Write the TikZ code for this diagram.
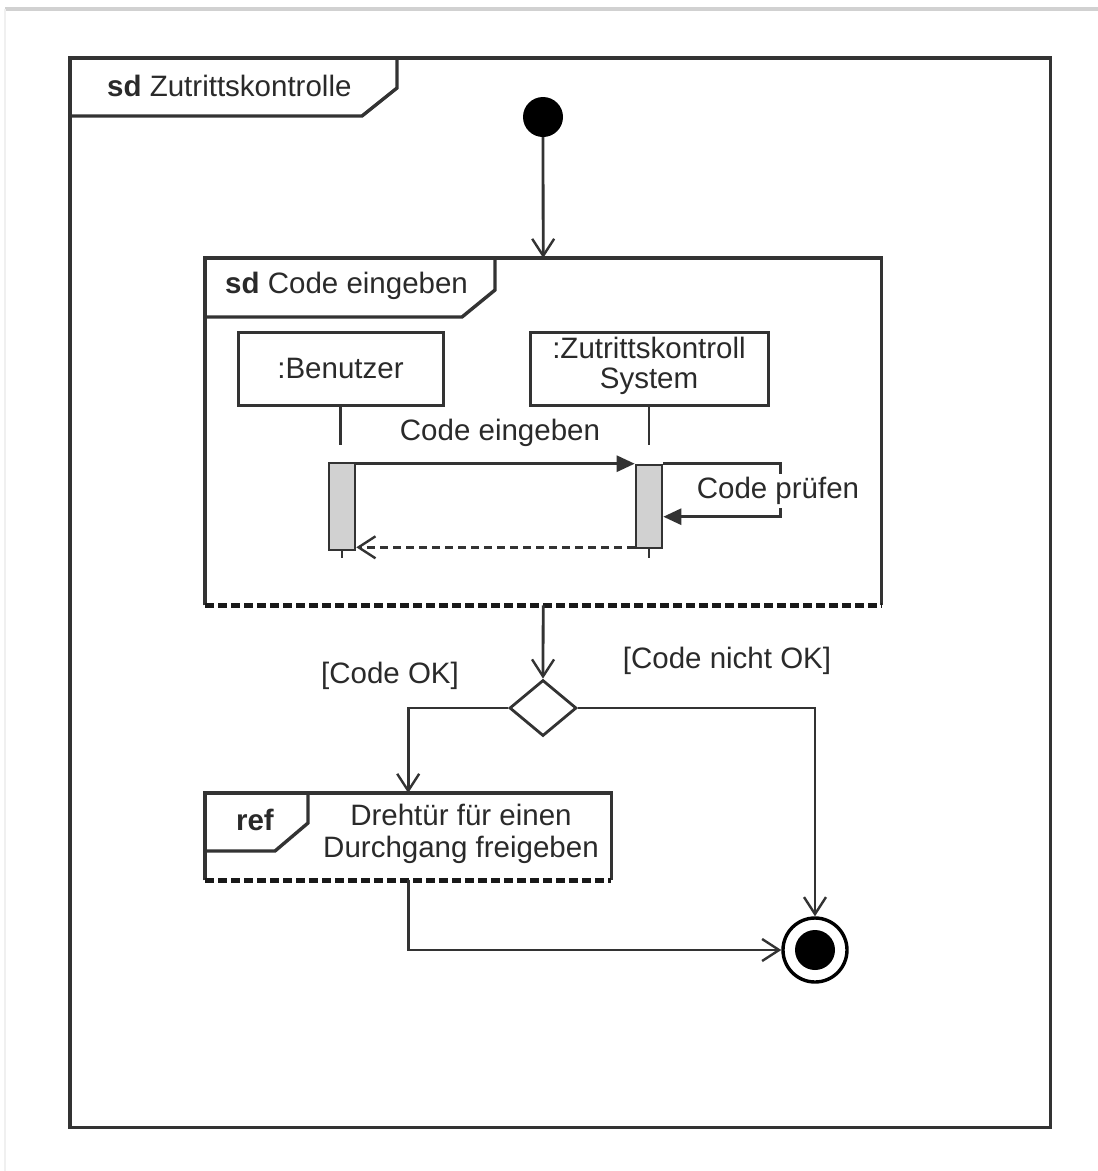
\documentclass[tikz,border=0pt]{standalone}
\usepackage{fontspec}
\setmainfont{Liberation Sans}
\usetikzlibrary{arrows.meta,shapes.geometric,calc}
\definecolor{ink}{HTML}{333333}
\definecolor{txt}{HTML}{2A2A2A}
\tikzset{
  lbl/.style={font=\fontsize{29.5}{32}\selectfont, text=txt, inner sep=1pt, align=center},
  frameline/.style={draw=ink, line width=3.4pt},
  dashedge/.style={draw=black!90, line width=4.6pt, dash pattern=on 9pt off 4pt},
  conn/.style={draw=ink, line width=2.8pt},
  openhead/.style={-{Straight Barb[length=17pt,width=22pt,line width=2.4pt]}},
  fillhead/.style={-{Triangle[length=18pt,width=16pt]}},
  lifebox/.style={draw=ink, line width=3pt, minimum width=#1, minimum height=73pt, inner sep=0pt},
  actbar/.style={draw=ink, line width=2.6pt, fill=black!18, minimum width=26pt, inner sep=0pt},
  region/.style={inner sep=0pt, anchor=north west},
}
\begin{document}
\begin{tikzpicture}[x=1pt,y=-1pt]
\useasboundingbox (0,0) rectangle (1098,1171);
\fill[white] (0,0) rectangle (1098,1171);
% screenshot edges
\draw[black!18, line width=4pt] (5,9) -- (1098,9);
\draw[black!6, line width=1.5pt] (5,9) -- (5,1171);

% outer frame: sd Zutrittskontrolle
\node[region, minimum width=980pt, minimum height=1069pt] (outer) at (70,58) {};
\draw[frameline] (outer.north west) rectangle (outer.south east);
\draw[frameline] ($(outer.north west)+(327,0)$) -- ++(0,30) -- ($(outer.north west)+(292,58)$) -- ($(outer.north west)+(0,58)$);
\node[lbl, anchor=west] (titleouter) at (106,86) {\textbf{sd} Zutrittskontrolle};

% initial node
\node[circle, fill=black, minimum size=40pt, inner sep=0pt] (init) at (543,117) {};

% inner frame: sd Code eingeben
\node[region, minimum width=676pt, minimum height=347pt] (inner) at (205,258) {};
\draw[frameline] (inner.south west) -- (inner.north west) -- (inner.north east) -- (inner.south east);
\draw[dashedge] (inner.south west) -- (inner.south east);
\draw[frameline] ($(inner.north west)+(290,0)$) -- ++(0,32) -- ($(inner.north west)+(257,59)$) -- ($(inner.north west)+(0,59)$);
\node[lbl, anchor=west] (titleinner) at (224,286) {\textbf{sd} Code eingeben};

% lifelines
\node[lifebox=205pt] (ben) at (340.5,368.5) {};
\node[lbl] (benlbl) at (ben.center) {:Benutzer};
\node[lifebox=238pt] (sys) at (649,368.5) {};
\node[lbl, font=\fontsize{29.5}{30}\selectfont] (syslbl) at (649,366) {:Zutrittskontroll\\System};

\node[actbar, minimum height=87pt] (bar1) at (342,506.5) {};
\node[actbar, minimum height=83pt] (bar2) at (649,506.5) {};

\draw[conn] (ben.south) -- ++(0,38);
\draw[conn] (sys.south) -- ++(0,38);
\draw[conn] (bar1.south) -- ++(0,7);
\draw[conn] (bar2.south) -- ++(0,9);

% messages
\node[lbl] (msg1lbl) at (500,433) {Code eingeben};
\draw[conn, fillhead] ($(bar1.north east)+(0,2)$) -- (bar2.north west);
\coordinate (selfa) at ($(bar2.north east)+(117,0)$);
\coordinate (selfb) at ($(bar2.north east)+(117,53)$);
\draw[conn, fillhead] (bar2.north east) -- (selfa) -- (selfb) -- ($(bar2.north east)+(0,53)$);
\node[lbl, fill=white, inner sep=3pt] (selflbl) at (778,491) {Code prüfen};
\draw[conn, dashed, dash pattern=on 8pt off 5pt, openhead] ($(bar2.south west)+(0,-2)$) -- ($(bar1.south east)+(0,-4)$);

% decision
\node[diamond, draw=ink, line width=2.8pt, aspect=1.2, minimum width=67pt, minimum height=56pt, inner sep=0pt] (dec) at (543,708) {};
\draw[conn, openhead] (init) -- (inner.north);
\draw[conn, openhead] (inner.south) -- (dec.north);
\node[lbl] (guardok) at (390,676) {[Code OK]};
\node[lbl] (guardnok) at (727,661) {[Code nicht OK]};

% ref fragment
\node[region, minimum width=406pt, minimum height=87pt] (ref) at (205,793) {};
\draw[frameline] (ref.south west) -- (ref.north west) -- (ref.north east) -- (ref.south east);
\draw[dashedge] (ref.south west) -- (ref.south east);
\draw[frameline] ($(ref.north west)+(103,0)$) -- ++(0,30) -- ($(ref.north west)+(70,58)$) -- ($(ref.north west)+(0,58)$);
\node[lbl] (reftag) at (255,820) {\textbf{ref}};
\node[lbl] (reftext) at (461,834) {Drehtür für einen\\Durchgang freigeben};

% final node
\node[circle, draw=black, line width=3.4pt, fill=white, minimum size=64pt, inner sep=0pt] (final) at (815,950) {};
\node[circle, fill=black, minimum size=40pt, inner sep=0pt] (finalin) at (final.center) {};

% flows
\draw[conn, openhead] (dec.west) -| (ref.north);
\draw[conn, openhead] (dec.east) -| (final.north);
\draw[conn, openhead] (ref.south) |- (final.west);
\end{tikzpicture}
\end{document}
